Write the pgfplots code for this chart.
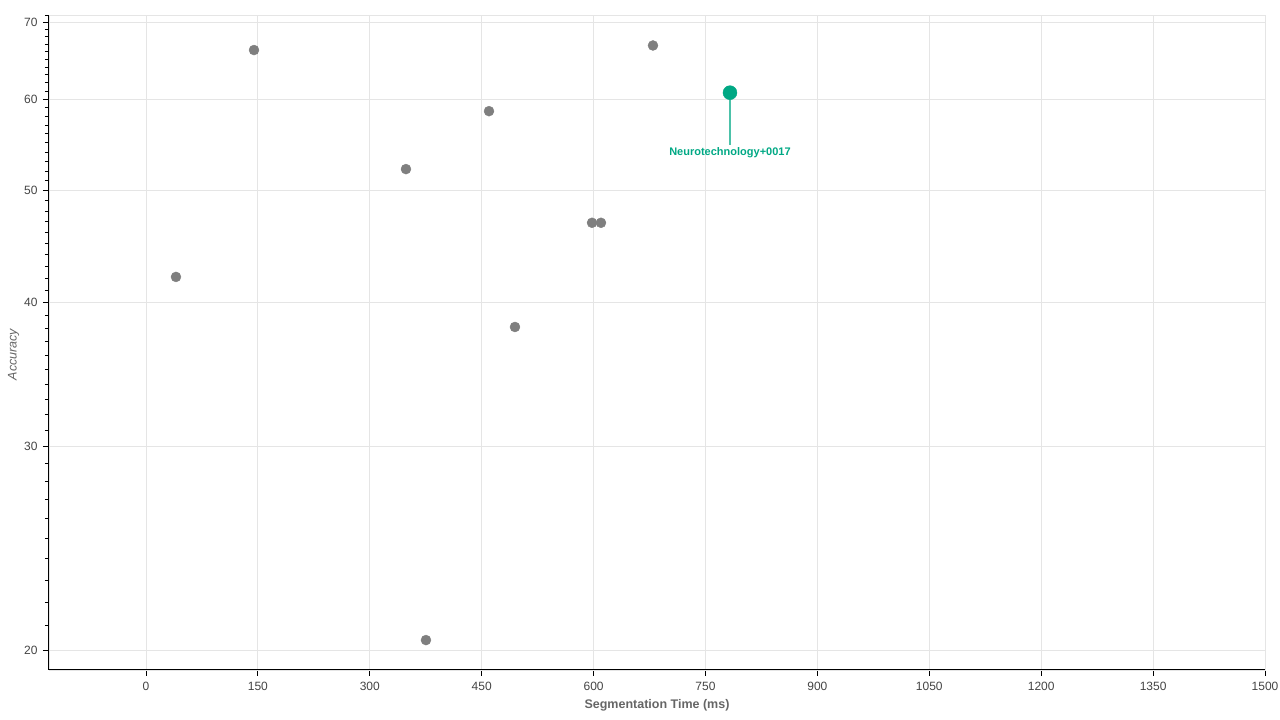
\documentclass[border=0pt]{standalone}
\usepackage{pgfplots}
\pgfplotsset{compat=1.18}
\usepackage{fontspec}
\setmainfont{Liberation Sans}
\definecolor{ptgrey}{HTML}{7F7F7F}
\definecolor{hl}{HTML}{00A884}
\definecolor{ticktxt}{HTML}{444444}
\definecolor{labtxt}{HTML}{666666}
\definecolor{gridc}{HTML}{E5E5E5}
\begin{document}
\begin{tikzpicture}
\useasboundingbox (-49pt,-50pt) rectangle (1231pt,670pt);
\begin{axis}[
  scale only axis,
  width=1216pt, height=655pt,
  ymode=log,
  xmin=-130, xmax=1500,
  ymin=19.22, ymax=71.0,
  xtick={0,150,...,1500},
  xticklabels={0,150,300,450,600,750,900,1050,1200,1350,1500},
  ytick={20,30,40,50,60,70},
  yticklabels={20,30,40,50,60,70},
  minor ytick={19,21,22,23,24,25,26,27,28,29,31,32,33,34,35,36,37,38,39,41,42,43,44,45,46,47,48,49,51,52,53,54,55,56,57,58,59,61,62,63,64,65,66,67,68,69,71},
  tick align=outside,
  major tick length=6pt,
  minor tick length=4pt,
  tick style={black, line width=0.9pt},
  minor y tick style={black, line width=0.9pt},
  xtick pos=bottom, ytick pos=left,
  grid=major,
  major grid style={gridc, line width=0.8pt},
  axis line style={draw=gridc, line width=0.8pt},
  tick label style={font=\fontsize{12pt}{14pt}\selectfont, text=ticktxt},
  xticklabel style={yshift=-3pt},
  yticklabel style={xshift=-2pt},
  xlabel={\bfseries Segmentation Time (ms)},
  ylabel={\itshape Accuracy},
  label style={font=\fontsize{12.5pt}{14pt}\selectfont, text=labtxt},
  xlabel style={yshift=-2pt},
  ylabel style={yshift=-2pt, xshift=-12pt},
  clip=false,
]
\draw[black, line width=1pt] (rel axis cs:0,1) -- (rel axis cs:0,0) -- (rel axis cs:1,0);
\addplot[only marks, mark=*, mark size=5pt, mark options={draw=ptgrey, fill=ptgrey}] coordinates {
  (40.2,42.1) (144.8,66.2) (348.5,52.2) (375.3,20.4) (459.8,58.6)
  (494.6,38.1) (597.9,46.9) (609.9,46.9) (679.6,66.8)
};
\draw[hl!70, line width=1.2pt] (axis cs:782.8,60.8) -- ++(0pt,-52pt)
  node[below, inner sep=2pt, text=hl, font=\fontsize{11pt}{13pt}\selectfont\bfseries] {Neurotechnology+0017};
\addplot[only marks, mark=*, mark size=7pt, mark options={draw=hl, fill=hl}] coordinates {
  (782.8,60.8)
};
\end{axis}
\end{tikzpicture}
\end{document}
